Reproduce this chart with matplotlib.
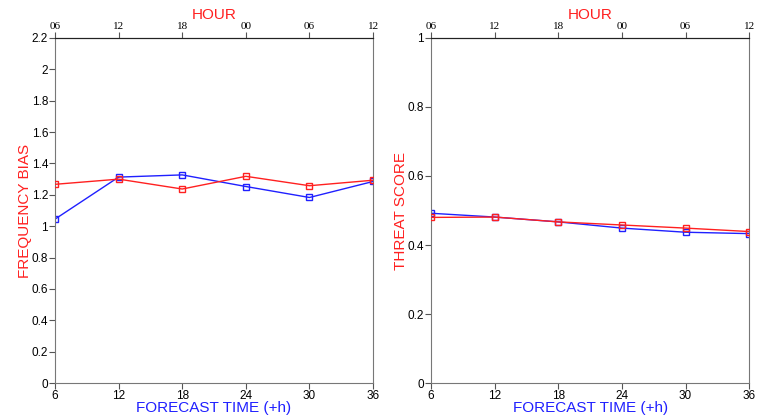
"""
    Frequency bias and threat score vs forecast time
"""
import matplotlib
matplotlib.use("Agg")
import matplotlib.pyplot as plt

# data
lead_time = [6, 12, 18, 24, 30, 36]
hour_labels = ["06", "12", "18", "00", "06", "12"]
bias_red = [1.267, 1.300, 1.237, 1.318, 1.258, 1.293]
bias_blue = [1.045, 1.313, 1.327, 1.253, 1.183, 1.285]
ts_red = [0.480, 0.481, 0.467, 0.458, 0.449, 0.439]
ts_blue = [0.492, 0.481, 0.467, 0.449, 0.437, 0.433]

plt.rcParams['font.family'] = ['Liberation Sans', 'DejaVu Sans']

fig = plt.figure(figsize=(7.59, 4.17), dpi=100)


def make_panel(rect, red, blue, ylabel, ymax, yticks, ytick_labels):
    ax = fig.add_axes(rect)
    ax.plot(lead_time, red, color='#ff2020', lw=1.0, marker='s', ms=5,
            mfc='none', mec='#ff2020', mew=1.0, zorder=3)
    ax.plot(lead_time, blue, color='#2020ff', lw=1.0, marker='s', ms=5,
            mfc='none', mec='#2020ff', mew=1.0, zorder=2)
    ax.set_xlim(6, 36)
    ax.set_ylim(0, ymax)
    ax.set_xticks(lead_time)
    ax.set_yticks(yticks)
    ax.set_yticklabels(ytick_labels)
    ax.tick_params(axis='both', direction='out', length=4, width=0.8,
                   labelsize=8.5, pad=1, color='#555555')
    ax.set_ylabel(ylabel, color='#ff2020', fontsize=11, labelpad=0)
    ax.set_xlabel("FORECAST TIME (+h)", color='#2020ff', fontsize=11, labelpad=-1)
    for side in ['left', 'right', 'bottom']:
        ax.spines[side].set_color('#777777')
    ax.spines['top'].set_color('#222222')
    # top axis with hour of day
    top = ax.twiny()
    top.set_xlim(6, 36)
    top.set_xticks(lead_time)
    top.set_xticklabels(hour_labels, family=['Liberation Serif', 'DejaVu Serif'])
    top.tick_params(axis='x', direction='out', length=4, width=0.8,
                    labelsize=8, pad=1, color='#555555')
    top.set_xlabel("HOUR", color='#ff2020', fontsize=11, labelpad=2)
    for side in ['left', 'right', 'bottom']:
        top.spines[side].set_visible(False)
    top.spines['top'].set_color('#222222')
    return ax


bias_ticks = [0, 0.2, 0.4, 0.6, 0.8, 1.0, 1.2, 1.4, 1.6, 1.8, 2.0, 2.2]
bias_labels = ["0", "0.2", "0.4", "0.6", "0.8", "1", "1.2", "1.4", "1.6", "1.8", "2", "2.2"]
ts_ticks = [0, 0.2, 0.4, 0.6, 0.8, 1.0]
ts_labels = ["0", "0.2", "0.4", "0.6", "0.8", "1"]

make_panel([0.0725, 0.0815, 0.419, 0.8274], bias_red, bias_blue,
           "FREQUENCY BIAS", 2.2, bias_ticks, bias_labels)
make_panel([0.568, 0.0815, 0.419, 0.8274], ts_red, ts_blue,
           "THREAT SCORE", 1.0, ts_ticks, ts_labels)

fig.savefig("out.png", dpi=100)
